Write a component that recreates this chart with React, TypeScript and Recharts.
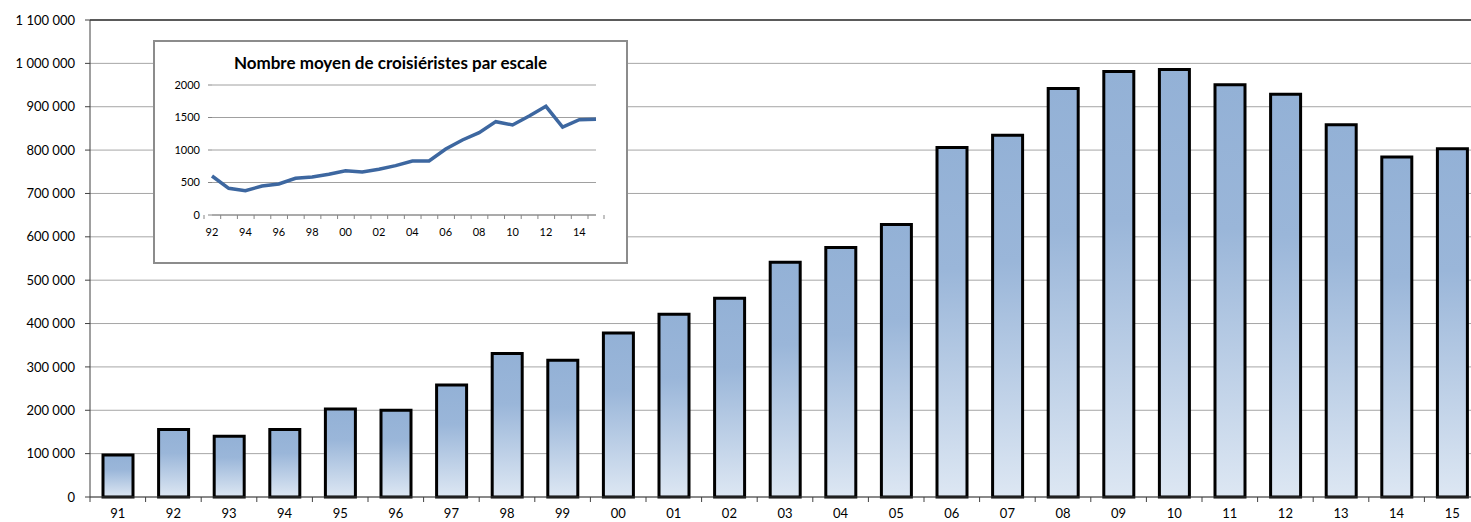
import {
  BarChart,
  Bar,
  LineChart,
  Line,
  XAxis,
  YAxis,
  CartesianGrid,
  ReferenceLine,
} from "recharts";

const years = [
  "91", "92", "93", "94", "95", "96", "97", "98", "99", "00", "01", "02", "03",
  "04", "05", "06", "07", "08", "09", "10", "11", "12", "13", "14", "15",
];

const cruisePassengers = [
  96900, 155500, 140000, 155500, 203000, 200000, 258400, 330900, 315400,
  378400, 421500, 458500, 541500, 575400, 628500, 806000, 834500, 942300,
  981500, 986000, 950600, 929000, 858300, 783800, 803000,
];

const mainTicks = [
  0, 100000, 200000, 300000, 400000, 500000, 600000, 700000, 800000, 900000,
  1000000, 1100000,
];

const insetYears = [
  "92", "93", "94", "95", "96", "97", "98", "99", "00", "01", "02", "03", "04",
  "05", "06", "07", "08", "09", "10", "11", "12", "13", "14", "15",
];

const perCall = [
  600, 410, 374, 446, 477, 564, 585, 626, 682, 662, 703, 759, 831, 831, 1015,
  1154, 1267, 1436, 1385, 1523, 1672, 1354, 1467, 1472,
];

const insetTicks = [0, 500, 1000, 1500, 2000];

const mainData = years.map((y, i) => ({ year: y, value: cruisePassengers[i] }));
const insetData = insetYears.map((y, i) => ({ year: y, value: perCall[i] }));

const FONT = "Lato, 'Open Sans', sans-serif";

// plot geometry (px)
const MAIN_W = 1490;
const MAIN_H = 522;
const MAIN_LEFT = 90;
const MAIN_RIGHT = 10;
const MAIN_BAND = (MAIN_W - MAIN_LEFT - MAIN_RIGHT) / years.length;

const INSET_W = 471;
const INSET_H = 220;
const INSET_LEFT = 57;
const INSET_RIGHT = 30;
const INSET_BAND = (INSET_W - INSET_LEFT - INSET_RIGHT) / insetYears.length;

const spaced = (v: number) => String(v).replace(/\B(?=(\d{3})+(?!\d))/g, " ");

function MainXTick(props: any) {
  const { x, y, payload } = props;
  return (
    <g>
      <line
        x1={x - MAIN_BAND / 2}
        x2={x - MAIN_BAND / 2}
        y1={y}
        y2={y + 5}
        stroke="#404040"
      />
      <text
        x={x}
        y={y + 21}
        textAnchor="middle"
        fontSize={13}
        fill="#000"
        fontFamily={FONT}
      >
        {payload.value}
      </text>
    </g>
  );
}

function InsetXTick(props: any) {
  const { x, y, payload, index } = props;
  return (
    <g>
      <line
        x1={x - INSET_BAND / 2}
        x2={x - INSET_BAND / 2}
        y1={y}
        y2={y + 4}
        stroke="#868686"
      />
      {index === insetYears.length - 1 && (
        <line
          x1={x + INSET_BAND / 2}
          x2={x + INSET_BAND / 2}
          y1={y}
          y2={y + 4}
          stroke="#868686"
        />
      )}
      {index % 2 === 0 && (
        <text
          x={x}
          y={y + 21}
          textAnchor="middle"
          fontSize={11}
          fill="#000"
          fontFamily={FONT}
        >
          {payload.value}
        </text>
      )}
    </g>
  );
}

function Inset() {
  return (
    <div
      style={{
        position: "absolute",
        left: 153,
        top: 40,
        width: INSET_W,
        height: INSET_H,
        border: "2px solid #8c8c8c",
        background: "#fff",
      }}
    >
      <div
        style={{
          position: "absolute",
          left: 0,
          top: 11,
          width: "100%",
          textAlign: "center",
          fontFamily: FONT,
          fontWeight: 700,
          fontSize: 17,
          lineHeight: "20px",
          color: "#000",
        }}
      >
        Nombre moyen de croisiéristes par escale
      </div>
      <LineChart
        width={INSET_W}
        height={INSET_H}
        data={insetData}
        margin={{ top: 43, right: INSET_RIGHT, bottom: 27, left: 0 }}
      >
        <CartesianGrid vertical={false} stroke="#a0a0a0" />
        <XAxis
          dataKey="year"
          interval={0}
          tickSize={0}
          tickMargin={0}
          tick={<InsetXTick />}
          axisLine={{ stroke: "#868686" }}
          tickLine={false}
          height={20}
        />
        <YAxis
          width={INSET_LEFT}
          domain={[0, 2000]}
          ticks={insetTicks}
          tickSize={4}
          tickMargin={8}
          tick={{ fontSize: 11, fill: "#000", fontFamily: FONT }}
          axisLine={false}
          tickLine={{ stroke: "#868686" }}
        />
        <Line
          dataKey="value"
          type="linear"
          stroke="#3d67a0"
          strokeWidth={3.5}
          dot={false}
          isAnimationActive={false}
        />
      </LineChart>
    </div>
  );
}

export default function App() {
  return (
    <div
      style={{
        position: "relative",
        width: 1471,
        height: 522,
        overflow: "hidden",
        background: "#fff",
        fontFamily: FONT,
      }}
    >
      <style>{"body{margin:0}"}</style>
      <BarChart
        width={MAIN_W}
        height={MAIN_H}
        data={mainData}
        margin={{ top: 20, right: MAIN_RIGHT, bottom: 5, left: 0 }}
        barCategoryGap={0}
      >
        <defs>
          <linearGradient id="barFill" x1="0" y1="0" x2="0" y2="1">
            <stop offset="0%" stopColor="#93b1d6" />
            <stop offset="35%" stopColor="#9ab6d9" />
            <stop offset="100%" stopColor="#dde7f3" />
          </linearGradient>
        </defs>
        <CartesianGrid vertical={false} stroke="#a6a6a6" />
        <ReferenceLine y={1100000} stroke="#5a5a5a" strokeWidth={2} />
        <XAxis
          dataKey="year"
          interval={0}
          tickSize={0}
          tickMargin={0}
          tick={<MainXTick />}
          axisLine={{ stroke: "#404040" }}
          tickLine={false}
          height={20}
        />
        <YAxis
          width={MAIN_LEFT}
          domain={[0, 1100000]}
          ticks={mainTicks}
          tickFormatter={spaced}
          tickSize={5}
          tickMargin={10}
          tick={{ fontSize: 13, fill: "#000", fontFamily: FONT }}
          axisLine={{ stroke: "#404040" }}
          tickLine={{ stroke: "#404040" }}
        />
        <Bar
          dataKey="value"
          fill="url(#barFill)"
          stroke="#000"
          strokeWidth={3}
          barSize={30}
          isAnimationActive={false}
        />
      </BarChart>
      <Inset />
    </div>
  );
}
